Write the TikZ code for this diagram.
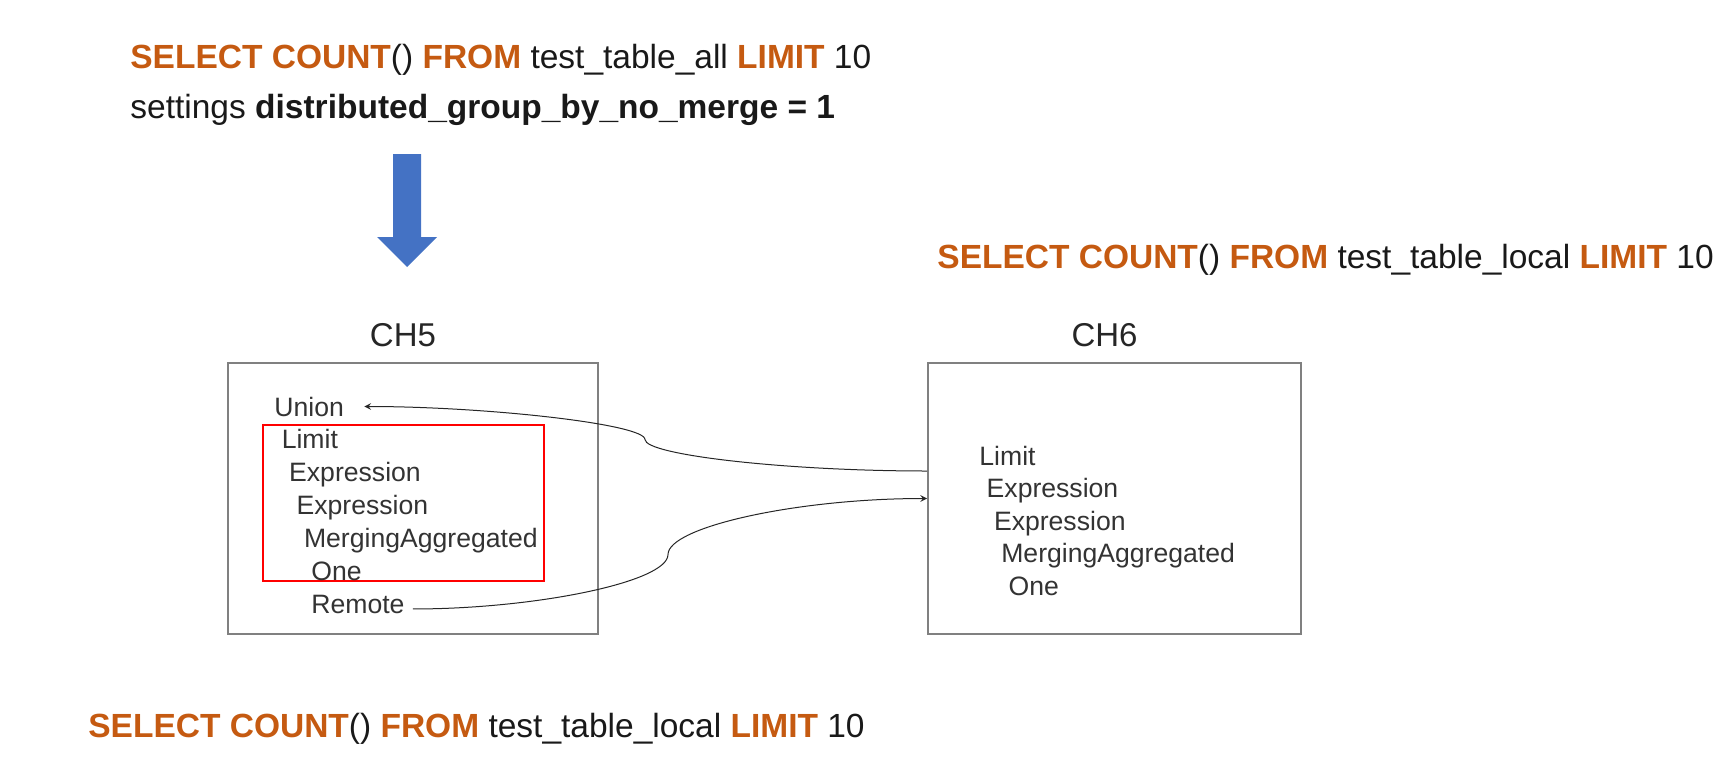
\documentclass[tikz,border=0pt]{standalone}
\usepackage{fontspec}
\setmainfont{Liberation Sans}
\usetikzlibrary{positioning}

\definecolor{sqlorange}{RGB}{197,90,17}
\definecolor{arrowblue}{RGB}{68,114,196}
\newcommand{\kw}[1]{\textcolor{sqlorange}{\bfseries #1}}

\begin{document}
\begin{tikzpicture}[x=0.5pt, y=-0.5pt, >=stealth,
  sql/.style={anchor=base west, inner sep=0, text=black!90, font=\fontsize{16.75}{20}\selectfont},
  op/.style={anchor=base west, inner sep=0, text=black!80, font=\fontsize{13.3}{16}\selectfont},
  server/.style={draw=black!50, line width=0.9pt, minimum width=185pt, minimum height=135.5pt},
  host/.style={inner sep=0, text=black!85, font=\fontsize{16.5}{20}\selectfont},
  link/.style={->, line width=0.5pt, black!85}]

\useasboundingbox (0,0) rectangle (1727,760);

\node [sql] (query) at (130,68) {\kw{SELECT COUNT}() \kw{FROM} test\_table\_all \kw{LIMIT} 10};
\node [sql] (settings) at (130,118) {settings \textbf{distributed\_group\_by\_no\_merge = 1}};

\fill [arrowblue] (393,154) -- (421,154) -- (421,237) -- (437,237) -- (407,267)
  -- (377,237) -- (393,237) -- cycle;

\node [sql] (remote-query) at (937,268) {\kw{SELECT COUNT}() \kw{FROM} test\_table\_local \kw{LIMIT} 10};
\node [sql] (local-query) at (88,737) {\kw{SELECT COUNT}() \kw{FROM} test\_table\_local \kw{LIMIT} 10};

\node [server] (ch5) at (413,498.5) {};
\node [server, minimum width=186.5pt] (ch6) at (1114.5,498.5) {};

\node [host, above=7.5pt of ch5, xshift=-5pt] (ch5-name) {CH5};
\node [host, above=7.5pt of ch6, xshift=-5pt] (ch6-name) {CH6};

\node [draw=red, line width=1pt, minimum width=140.5pt, minimum height=78pt] (local-plan) at (403.5,503) {};

\foreach \l [count=\i] in {Union,Limit,Expression,Expression,MergingAggregated,One}
  \node [op] (ch5-op-\i) at (274+7.4*\i-7.4, 416+32.8*\i-32.8) {\l};
\node [op] (remote) at (311,613) {Remote};

\foreach \l [count=\i] in {Limit,Expression,Expression,MergingAggregated,One}
  \node [op] (ch6-op-\i) at (979+7.3*\i-7.3, 465+32.5*\i-32.5) {\l};

\coordinate (bend-up) at (645,439.5);
\coordinate (bend-down) at (668,554.5);

\draw [link, shorten >=10pt] ([yshift=13.75pt]ch6.west)
  .. controls +(-141,0) and +(0,15.5) .. (bend-up)
  .. controls +(0,-15.5) and +(141,0) .. (ch5-op-1.east);

\draw [link, shorten <=4pt] ([yshift=-2.5pt]remote.east)
  .. controls +(130,0) and +(0,27.5) .. (bend-down)
  .. controls +(0,-27.5) and +(-130,0) .. (ch6.west);

\end{tikzpicture}
\end{document}
